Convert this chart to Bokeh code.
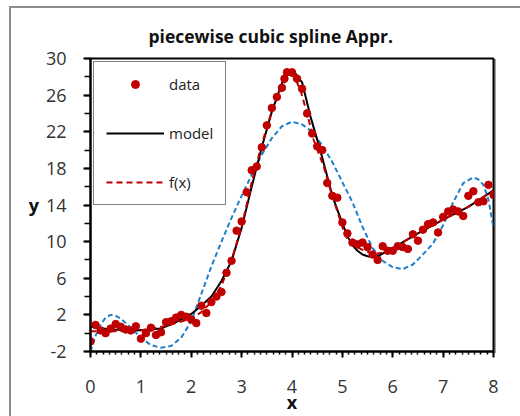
from bokeh.plotting import figure
from bokeh.models import Range1d, Legend, LegendItem, FixedTicker
from bokeh.embed import file_html
from bokeh.resources import INLINE

# ---- data ----
data_x = [0.0, 0.1, 0.2, 0.3, 0.4, 0.5, 0.6, 0.7, 0.8, 0.9,
          1.0, 1.1, 1.2, 1.3, 1.4, 1.5, 1.6, 1.7, 1.8, 1.9,
          2.0, 2.1, 2.2, 2.3, 2.4, 2.5, 2.6, 2.7, 2.8, 2.9,
          3.0, 3.1, 3.2, 3.3, 3.4, 3.5, 3.6, 3.7, 3.8, 3.85, 3.9,
          4.0, 4.1, 4.2, 4.3, 4.4, 4.5, 4.6, 4.7, 4.8, 4.9,
          5.0, 5.1, 5.2, 5.3, 5.4, 5.5, 5.6, 5.7, 5.8, 5.9,
          6.0, 6.1, 6.2, 6.3, 6.4, 6.5, 6.6, 6.7, 6.8, 6.9,
          7.0, 7.1, 7.2, 7.3, 7.4, 7.5, 7.6, 7.7, 7.8, 7.9, 8.0]
data_y = [-0.9, 0.9, 0.3, 0.0, 0.5, 1.0, 0.7, 0.4, 0.3, 0.75,
          -0.6, 0.0, 0.6, -0.2, 0.1, 1.2, 1.3, 1.7, 2.0, 1.8,
          1.5, 1.1, 3.0, 2.2, 3.4, 4.0, 4.5, 6.6, 7.9, 11.2,
          12.2, 15.4, 17.8, 18.2, 20.3, 22.7, 24.6, 25.8, 26.8, 27.8, 28.5,
          28.5, 27.8, 26.7, 24.0, 21.8, 20.4, 20.0, 16.4, 15.0, 14.8,
          12.1, 10.9, 9.9, 9.7, 9.9, 9.4, 8.6, 8.0, 9.5, 9.0,
          9.0, 9.5, 9.4, 9.2, 10.8, 10.1, 11.3, 11.9, 12.1, 11.0,
          12.7, 13.3, 13.5, 13.3, 12.8, 15.0, 15.5, 14.3, 14.4, 16.2, 15.1]

model_x = [0.0, 0.4, 0.9, 1.4, 1.7, 2.0, 2.2, 2.4, 2.6, 2.8, 3.0, 3.2, 3.4, 3.6,
           3.8, 3.9, 3.97, 4.05, 4.2, 4.37, 4.56, 4.7, 4.8, 4.9, 5.0, 5.1, 5.2,
           5.3, 5.4, 5.5, 5.6, 5.7, 5.8, 6.0, 6.5, 7.0, 7.5, 8.0]
model_y = [0.7, 0.4, 0.3, 0.5, 1.2, 2.1, 3.0, 4.0, 5.7, 7.9, 11.5, 16.0, 20.3, 24.2,
           27.3, 28.3, 28.7, 28.5, 27.4, 23.6, 20.0, 17.1, 15.0, 13.5, 12.0, 10.6, 9.6,
           9.0, 8.6, 8.4, 8.3, 8.4, 8.7, 9.3, 10.9, 12.4, 13.8, 15.6]

fx_x = [0.0, 0.5, 1.0, 1.5, 2.0, 2.2, 2.4, 2.6, 2.8, 3.0, 3.2, 3.4, 3.6, 3.8, 3.95,
        4.05, 4.17, 4.3, 4.43, 4.63, 4.76, 4.9, 5.06, 5.2, 5.36, 5.5, 5.62, 5.79,
        6.0, 6.5, 7.0, 7.5, 8.0]
fx_y = [0.2, 0.2, 0.3, 0.8, 1.6, 2.3, 3.4, 5.2, 8.0, 11.6, 16.5, 20.6, 24.3, 27.0, 28.2,
        28.0, 26.5, 24.0, 21.1, 18.2, 15.7, 13.3, 10.6, 9.7, 9.2, 8.9, 8.6, 8.8,
        9.3, 10.9, 12.4, 13.8, 15.6]

spline_x = [0.0, 0.1, 0.2, 0.3, 0.4, 0.5, 0.6, 0.8, 1.0, 1.2, 1.4, 1.6, 1.8, 2.0,
            2.2, 2.4, 2.6, 2.8, 3.0, 3.2, 3.4, 3.6, 3.8, 4.0, 4.2, 4.4, 4.6, 4.8,
            5.0, 5.2, 5.4, 5.6, 5.8, 6.0, 6.2, 6.4, 6.6, 6.8, 7.0, 7.2, 7.4, 7.6,
            7.7, 7.8, 7.9, 8.0]
spline_y = [-2.0, -0.3, 0.9, 1.7, 2.0, 1.9, 1.6, 0.6, -0.5, -1.3, -1.6, -1.4, -0.5, 1.3,
            4.3, 7.3, 10.0, 12.6, 15.0, 17.3, 19.5, 21.3, 22.6, 23.1, 22.8, 22.0, 20.5, 18.7,
            16.5, 14.3, 11.6, 9.3, 7.9, 7.2, 7.0, 7.5, 8.6, 9.8, 11.8, 14.3, 16.4, 17.0,
            16.8, 16.2, 14.6, 11.5]

x_ticks = [0, 1, 2, 3, 4, 5, 6, 7, 8]
y_ticks = [-2, 2, 6, 10, 14, 18, 22, 26, 30]
title_text = "piecewise cubic spline Appr."

FONT = "Open Sans"
RED = "#C00000"
BLUE = "#1F7FCC"
GRAY = "#8c8c8c"

p = figure(width=520, height=416, output_backend="svg", toolbar_location=None,
           x_range=Range1d(0, 8), y_range=Range1d(-2, 30),
           min_border_left=90, min_border_right=27, min_border_top=58, min_border_bottom=63,
           background_fill_color="white", border_fill_color="white", border_fill_alpha=0)
# outer chart-area edge (left and top) and the plot-area shadow on the right,
# drawn behind the transparent border area
p.styles = {
    "background": (f"linear-gradient({GRAY}, {GRAY}) 9px 6px / 2px 100% no-repeat, "
                   f"linear-gradient({GRAY}, {GRAY}) 9px 6px / 100% 2px no-repeat, "
                   f"linear-gradient(#a0a0a0, #a0a0a0) 494px 59px / 2px 294px no-repeat, white"),
}
p.grid.visible = False
p.outline_line_color = "black"
p.outline_line_width = 2

# title
p.title.text = title_text
p.title.align = "left"
p.title.offset = 58
p.title.standoff = 21
p.title.text_font = FONT
p.title.text_font_size = "17.5px"
p.title.text_font_style = "bold"
p.title.text_color = "#111111"

# axes
for ax in (p.xaxis[0], p.yaxis[0]):
    ax.axis_line_color = "black"
    ax.axis_line_width = 2
    ax.major_tick_line_color = "black"
    ax.major_tick_line_width = 2
    ax.minor_tick_line_color = "black"
    ax.minor_tick_line_width = 1.5
    ax.major_tick_in = 0
    ax.minor_tick_in = 0
    ax.major_label_text_font = FONT
    ax.major_label_text_font_size = "18px"
    ax.major_label_text_color = "#333333"
    ax.axis_label_text_font = FONT
    ax.axis_label_text_font_size = "18px"
    ax.axis_label_text_font_style = "bold"
    ax.axis_label_text_color = "#111111"

p.xaxis.ticker = FixedTicker(ticks=x_ticks,
                             minor_ticks=[i / 8 for i in range(0, 65)])
p.xaxis.major_tick_out = 6
p.xaxis.minor_tick_out = 3
p.xaxis.major_label_standoff = 22
p.xaxis.axis_label = "x"
p.xaxis.axis_label_standoff = -6

p.yaxis.ticker = FixedTicker(ticks=y_ticks,
                             minor_ticks=[-2 + 2 * i for i in range(17)])
p.yaxis.major_label_overrides = {t: str(t) for t in y_ticks}
p.yaxis.major_tick_out = 7
p.yaxis.minor_tick_out = 6
p.yaxis.major_label_standoff = 17
p.yaxis.axis_label = "y"
p.yaxis.axis_label_standoff = 4
try:
    p.yaxis[0].axis_label_orientation = "horizontal"
except Exception:
    pass

# curves
r_spline = p.line(spline_x, spline_y, line_color=BLUE, line_width=2, line_dash="5 3")
r_model = p.line(model_x, model_y, line_color="black", line_width=2)
r_fx = p.line(fx_x, fx_y, line_color=RED, line_width=2, line_dash="6 4")
r_data = p.scatter(data_x, data_y, size=7.5, fill_color=RED, line_color=RED)

legend = Legend(items=[LegendItem(label="data", renderers=[r_data]),
                       LegendItem(label="model", renderers=[r_model]),
                       LegendItem(label="f(x)", renderers=[r_fx])],
                location="top_left")
legend.margin = 3
legend.padding = 12
legend.spacing = 29
legend.glyph_width = 58
legend.glyph_height = 20
legend.label_height = 20
legend.label_standoff = 5
legend.label_text_font = FONT
legend.label_text_font_size = "15px"
legend.label_text_color = "#222222"
legend.border_line_color = "black"
legend.border_line_width = 1.5
legend.background_fill_color = "white"
legend.background_fill_alpha = 1
p.add_layout(legend)

open("out.html", "w").write(file_html(p, INLINE))
